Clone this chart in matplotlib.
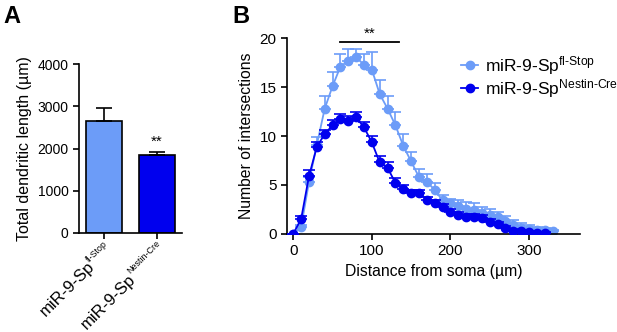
import numpy as np
import matplotlib
matplotlib.use("Agg")
import matplotlib.pyplot as plt
from matplotlib.transforms import offset_copy

plt.rcParams['font.family'] = ['Liberation Sans', 'DejaVu Sans']
plt.rcParams['mathtext.fontset'] = 'custom'
plt.rcParams['mathtext.rm'] = 'Liberation Sans'
plt.rcParams['mathtext.it'] = 'Liberation Sans'

light = '#6c9cf8'
dark = '#0000ee'

# Panel A data
group_base = ['miR-9-Sp', 'miR-9-Sp']
group_sup = ['fl-Stop', 'Nestin-Cre']
length_mean = [2650, 1850]
length_sem = [300, 70]

# Panel B data (Sholl analysis)
dist_flstop = np.arange(0, 340, 10)
int_flstop = [0, 0.7, 5.3, 9.1, 12.8, 15.1, 17.1, 17.7, 18.05, 17.3, 16.8, 14.3,
              12.8, 11.1, 9.0, 7.4, 5.8, 5.3, 4.5, 3.4, 3.1, 2.8, 2.5, 2.4, 2.15,
              1.9, 1.7, 1.3, 0.9, 0.55, 0.5, 0.4, 0.35, 0.3]
err_flstop = [0, 0.2, 0.5, 0.8, 1.3, 1.4, 1.3, 1.2, 0.9, 1.1, 1.8, 1.4,
              1.3, 1.4, 1.2, 1.0, 0.8, 0.8, 0.7, 0.6, 0.5, 0.6, 0.7, 0.7, 0.6,
              0.6, 0.5, 0.5, 0.5, 0.5, 0.4, 0.3, 0.2, 0.1]
dist_cre = np.arange(0, 330, 10)
int_cre = [0, 1.5, 5.9, 8.9, 10.2, 11.1, 11.7, 11.5, 11.9, 10.9, 9.35, 7.3,
           6.75, 5.2, 4.6, 4.2, 4.2, 3.5, 3.1, 2.7, 2.25, 1.9, 1.75, 1.75, 1.6,
           1.2, 1.0, 0.55, 0.3, 0.3, 0.2, 0.1, 0.1]
err_cre = [0, 0.3, 0.6, 0.5, 0.4, 0.5, 0.6, 0.5, 0.6, 0.5, 0.6, 0.7,
           0.6, 0.5, 0.4, 0.3, 0.3, 0.3, 0.3, 0.3, 0.3, 0.3, 0.3, 0.3, 0.3,
           0.3, 0.2, 0.2, 0.2, 0.1, 0.1, 0.1, 0.1]

fig = plt.figure(figsize=(6.17, 3.32), dpi=100)

# ---- Panel A ----
axA = fig.add_axes([79/617, 1-233/332, 103/617, (233-64)/332])
xpos = [0, 1]
axA.bar(xpos, length_mean, width=0.68, color=[light, dark], edgecolor='black', linewidth=1.2)
axA.errorbar(xpos, length_mean, yerr=[[0, 0], length_sem], fmt='none', ecolor='black',
             elinewidth=1.2, capsize=6, capthick=1.2)
axA.text(1, length_mean[1] + length_sem[1] + 80, '**', ha='center', va='bottom', fontsize=11)
axA.set_xlim(-0.47, 1.47)
axA.set_ylim(0, 4000)
axA.set_yticks([0, 1000, 2000, 3000, 4000])
axA.set_xticks(xpos)
axA.set_xticklabels(['', ''])
axA.tick_params(width=1.2, length=4)
axA.tick_params(axis='y', labelsize=10)
axA.set_ylabel('Total dendritic length (µm)', fontsize=11.5)
axA.spines['top'].set_visible(False)
axA.spines['right'].set_visible(False)
for s in ['left', 'bottom']:
    axA.spines[s].set_linewidth(1.2)

# rotated tick labels with small superscripts
renderer = fig.canvas.get_renderer()
ang = np.deg2rad(45)
u = np.array([np.cos(ang), np.sin(ang)])
nrm = np.array([-np.sin(ang), np.cos(ang)])
base_fs, sup_fs = 12.0, 6.4
for i, (b, s) in enumerate(zip(group_base, group_sup)):
    tmp = fig.text(0, 0, s, fontsize=sup_fs)
    w = tmp.get_window_extent(renderer).width
    tmp.remove()
    p0 = np.array([4.0, -11.0])
    axA.text(xpos[i], 0, s, fontsize=sup_fs, rotation=45, rotation_mode='anchor',
             ha='right', va='baseline',
             transform=offset_copy(axA.transData, fig=fig, x=p0[0], y=p0[1], units='dots'))
    pb = p0 - (w - 0.5) * u - 8.0 * nrm
    axA.text(xpos[i], 0, b, fontsize=base_fs, rotation=45, rotation_mode='anchor',
             ha='right', va='baseline',
             transform=offset_copy(axA.transData, fig=fig, x=pb[0], y=pb[1], units='dots'))

# ---- Panel B ----
labels_b = [b + r'$^{\text{' + s + '}}$' for b, s in zip(group_base, group_sup)]
axB = fig.add_axes([287/617, 1-233.7/332, (580-287)/617, (233.7-38.3)/332])
axB.errorbar(dist_flstop, int_flstop, yerr=[np.zeros(len(err_flstop)), err_flstop],
             color=light, marker='o', markersize=6, linewidth=1.3, elinewidth=1.2,
             capsize=4, capthick=1.2, label=labels_b[0], zorder=2)
axB.errorbar(dist_cre, int_cre, yerr=[np.zeros(len(err_cre)), err_cre],
             color=dark, marker='o', markersize=6, linewidth=1.3, elinewidth=1.2,
             capsize=4, capthick=1.2, label=labels_b[1], zorder=3)
axB.plot([60, 135], [19.6, 19.6], color='black', linewidth=1.3, clip_on=False)
axB.text(97, 19.7, '**', ha='center', va='bottom', fontsize=11)
axB.set_xlim(-8, 365)
axB.set_ylim(0, 20)
axB.set_xticks([0, 100, 200, 300])
axB.set_yticks([0, 5, 10, 15, 20])
axB.set_xlabel('Distance from soma (µm)', fontsize=11.3)
axB.set_ylabel('Number of intersections', fontsize=11.3)
axB.spines['top'].set_visible(False)
axB.spines['right'].set_visible(False)
for s in ['left', 'bottom']:
    axB.spines[s].set_linewidth(1.2)
axB.tick_params(width=1.2, length=4, labelsize=11)
handles, labels = axB.get_legend_handles_labels()
handles = [h[0] for h in handles]
fig.legend(handles, labels, loc='upper left', bbox_to_anchor=(461/617, 1-54/332), frameon=False,
           fontsize=12.5, handlelength=1.0, handletextpad=0.4, labelspacing=0.0,
           borderaxespad=0, borderpad=0)

fig.text(3/617, 1-23/332, 'A', fontsize=17, fontweight='bold')
fig.text(232/617, 1-23/332, 'B', fontsize=17, fontweight='bold')

fig.savefig('out.png', dpi=100)
